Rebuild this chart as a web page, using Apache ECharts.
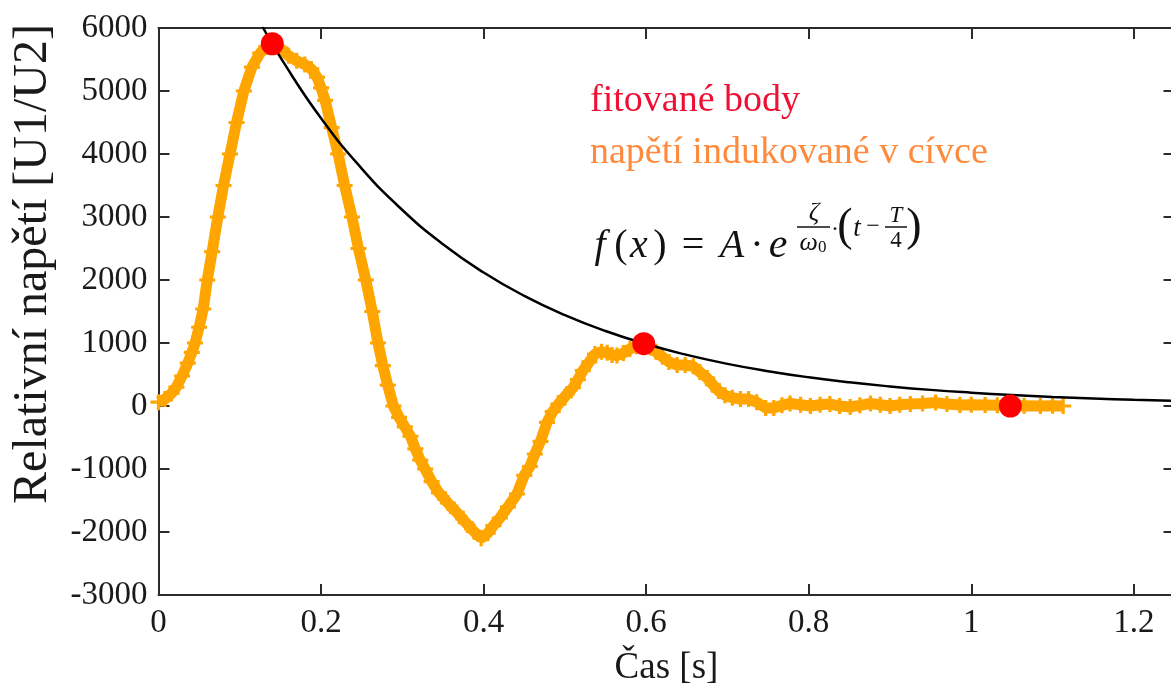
<!DOCTYPE html>
<html>
<head>
<meta charset="utf-8">
<script src="https://cdn.jsdelivr.net/npm/echarts@6/dist/echarts.min.js"></script>
<style>
  html, body { margin: 0; padding: 0; background: #fff; }
  #chart { width: 1171px; height: 693px; }
</style>
</head>
<body>
<div id="chart"></div>
<script>
// Measured induced voltage (time in s, relative voltage U1/U2)
const measT = [0.000,0.008,0.016,0.022,0.029,0.036,0.041,0.045,0.050,0.055,0.060,0.066,0.073,0.080,0.088,0.096,0.105,0.115,0.125,0.133,0.140,
  0.150,0.160,0.170,0.180,0.188,0.195,0.200,0.205,0.213,0.221,0.229,0.238,0.246,0.255,0.263,0.270,0.276,0.282,0.289,0.296,0.303,0.310,0.316,0.322,0.328,0.336,0.345,0.356,0.367,0.378,0.388,0.397,
  0.405,0.412,0.420,0.430,0.441,0.450,0.457,0.463,0.470,0.478,0.485,0.492,0.500,0.510,0.516,0.522,0.530,0.537,0.545,0.552,0.558,0.564,0.572,0.580,0.588,0.597,
  0.605,0.612,0.620,0.628,0.638,0.648,0.658,0.666,0.675,0.682,0.689,0.697,0.706,0.716,0.726,0.736,0.747,0.757,0.767,0.777,0.790,0.802,0.814,0.826,0.838,0.851,
  0.863,0.876,0.888,0.900,0.912,0.925,0.940,0.956,0.970,0.986,1.000,1.017,1.032,1.048,1.065,1.085,1.100,1.113];
const measU = [60,110,200,300,476,680,850,1000,1250,1540,2000,2450,3000,3500,4000,4500,5000,5380,5603,5700,5750,
  5680,5560,5480,5420,5350,5220,5050,4850,4420,4000,3500,3000,2500,2000,1500,1000,640,330,0,-180,-330,-480,-680,-860,-1000,-1200,-1380,-1540,-1690,-1850,-1990,-2100,
  -2020,-1900,-1778,-1600,-1397,-1100,-960,-762,-560,-260,-90,30,150,290,420,560,700,825,860,845,810,800,840,905,950,990,
  930,860,780,700,650,650,630,540,444,340,240,170,130,110,110,60,-30,-30,10,40,20,0,20,30,0,-15,
  10,40,20,0,20,30,40,55,30,15,20,15,10,0,5,0,5,0];

// Exponential envelope
const fitT = [0.128,0.15,0.2,0.25,0.3,0.35,0.4,0.45,0.5,0.55,0.6,0.65,0.7,0.75,0.8,0.85,0.9,0.95,1.0,1.05,1.1,1.15,1.2,1.25];
const fitU = [6020,5533,4567,3769,3111,2567,2119,1749,1443,1191,983,811,669,553,456,376,311,256,212,175,144,119,98,81];

// Points used for the fit
const fitPointT = [0.140, 0.597, 1.048];
const fitPointU = [5750, 990, 0];

const nameMeas = 'napětí indukované v cívce';
const nameFit = 'fitované body';
const xTitle = 'Čas [s]';
const yTitle = 'Relativní napětí [U1/U2]';

const zip = (a, b) => a.map((v, i) => [v, b[i]]);

const serif = 'Liberation Serif';
const axisColor = '#2b2b2b';
const ink = '#1a1a1a';
const tickFont = { fontFamily: serif, fontSize: 33, color: ink };
const plusIcon = 'path://M4,0H6V4H10V6H6V10H4V6H0V4H4Z';

const chart = echarts.init(document.getElementById('chart'), null, { renderer: 'canvas' });

const axisLine = { show: true, onZero: false, lineStyle: { color: axisColor, width: 2 } };
const axisTick = { show: true, inside: true, length: 11, lineStyle: { color: axisColor, width: 2 } };

const txt = (x, y, text, size, opts) => ({
  type: 'text', x, y,
  style: Object.assign({ text, fontFamily: serif, fontSize: size, fill: '#111', align: 'center', verticalAlign: 'middle' }, opts || {})
});

chart.setOption({
  animation: false,
  backgroundColor: '#ffffff',
  // the frame's right edge sits just past the canvas
  grid: { left: 158.5, width: 1016, top: 28, bottom: 98, containLabel: false, outerBoundsMode: 'none' },
  legend: {
    orient: 'vertical',
    left: 580, top: 77,
    itemWidth: 0, itemHeight: 0, itemGap: 14,
    selectedMode: false,
    textStyle: { fontFamily: serif, fontSize: 38 },
    data: [
      { name: nameFit, icon: 'rect', textStyle: { color: '#ee1133' } },
      { name: nameMeas, icon: 'rect', textStyle: { color: '#ff8a3c' } }
    ]
  },
  xAxis: [
    {
      type: 'value', min: 0, max: 1.25, interval: 0.2, position: 'bottom',
      axisLine, axisTick, splitLine: { show: false },
      axisLabel: Object.assign({ margin: 12, formatter: v => (v > 1.21 ? '' : String(+v.toFixed(1))) }, tickFont),
      name: xTitle, nameLocation: 'middle', nameGap: 55,
      nameTextStyle: { fontFamily: serif, fontSize: 37, color: ink }
    },
    {
      type: 'value', min: 0, max: 1.25, interval: 0.2, position: 'top',
      axisLine, axisTick, splitLine: { show: false },
      axisLabel: { show: false }
    }
  ],
  yAxis: [
    {
      type: 'value', min: -3000, max: 6000, interval: 1000, position: 'left',
      axisLine, axisTick, splitLine: { show: false },
      axisLabel: Object.assign({ margin: 11, formatter: v => String(v) }, tickFont)
    },
    {
      type: 'value', min: -3000, max: 6000, interval: 1000, position: 'right',
      axisLine, axisTick, splitLine: { show: false },
      axisLabel: { show: false }
    }
  ],
  series: [
    {
      name: nameMeas,
      type: 'line',
      data: zip(measT, measU),
      lineStyle: { color: '#ffa500', width: 11 },
      itemStyle: { color: '#ffa500' },
      symbol: plusIcon, symbolSize: 16, showSymbol: true,
      z: 2
    },
    {
      name: 'fit',
      type: 'line',
      data: zip(fitT, fitU),
      smooth: true,
      symbol: 'none',
      lineStyle: { color: '#000000', width: 2.5 },
      z: 3
    },
    {
      name: nameFit,
      type: 'scatter',
      data: zip(fitPointT, fitPointU),
      symbol: 'circle', symbolSize: 23,
      itemStyle: { color: '#ff0000', opacity: 1 },
      z: 4
    }
  ],
  graphic: [
    {
      type: 'text', x: 33, y: 264, rotation: Math.PI / 2,
      style: { text: yTitle, fontFamily: serif, fontSize: 48, fill: ink, align: 'center', verticalAlign: 'middle' }
    },
    // f(x) = A · e^{ζ/ω0 · (t − T/4)}
    txt(600, 246, 'f', 40, { fontStyle: 'italic' }),
    txt(621, 246, '(', 40),
    txt(639, 246, 'x', 40, { fontStyle: 'italic' }),
    txt(660, 246, ')', 40),
    txt(693, 246, '=', 40),
    txt(732, 246, 'A', 40, { fontStyle: 'italic' }),
    txt(757, 246, '·', 40),
    txt(778, 246, 'e', 42, { fontStyle: 'italic' }),
    txt(814, 213, 'ζ', 26, { fontStyle: 'italic' }),
    { type: 'line', shape: { x1: 797, y1: 227, x2: 830, y2: 227 }, style: { stroke: '#111', lineWidth: 1.5 } },
    { type: 'text', x: 813, y: 243, style: { text: '{i|ω}{s|0}', align: 'center', verticalAlign: 'middle', rich: {
      i: { fontFamily: serif, fontStyle: 'italic', fontSize: 26, fill: '#111' },
      s: { fontFamily: serif, fontSize: 17, fill: '#111', padding: [10, 0, 0, 0] } } } },
    txt(835, 230, '·', 24),
    txt(845, 228, '(', 46),
    txt(857, 229, 't', 27, { fontStyle: 'italic' }),
    txt(873, 227, '−', 24),
    txt(896, 216, 'T', 23, { fontStyle: 'italic' }),
    { type: 'line', shape: { x1: 885, y1: 227, x2: 907, y2: 227 }, style: { stroke: '#111', lineWidth: 1.5 } },
    txt(896, 241, '4', 23),
    txt(914, 228, ')', 46)
  ]
});
</script>
</body>
</html>
